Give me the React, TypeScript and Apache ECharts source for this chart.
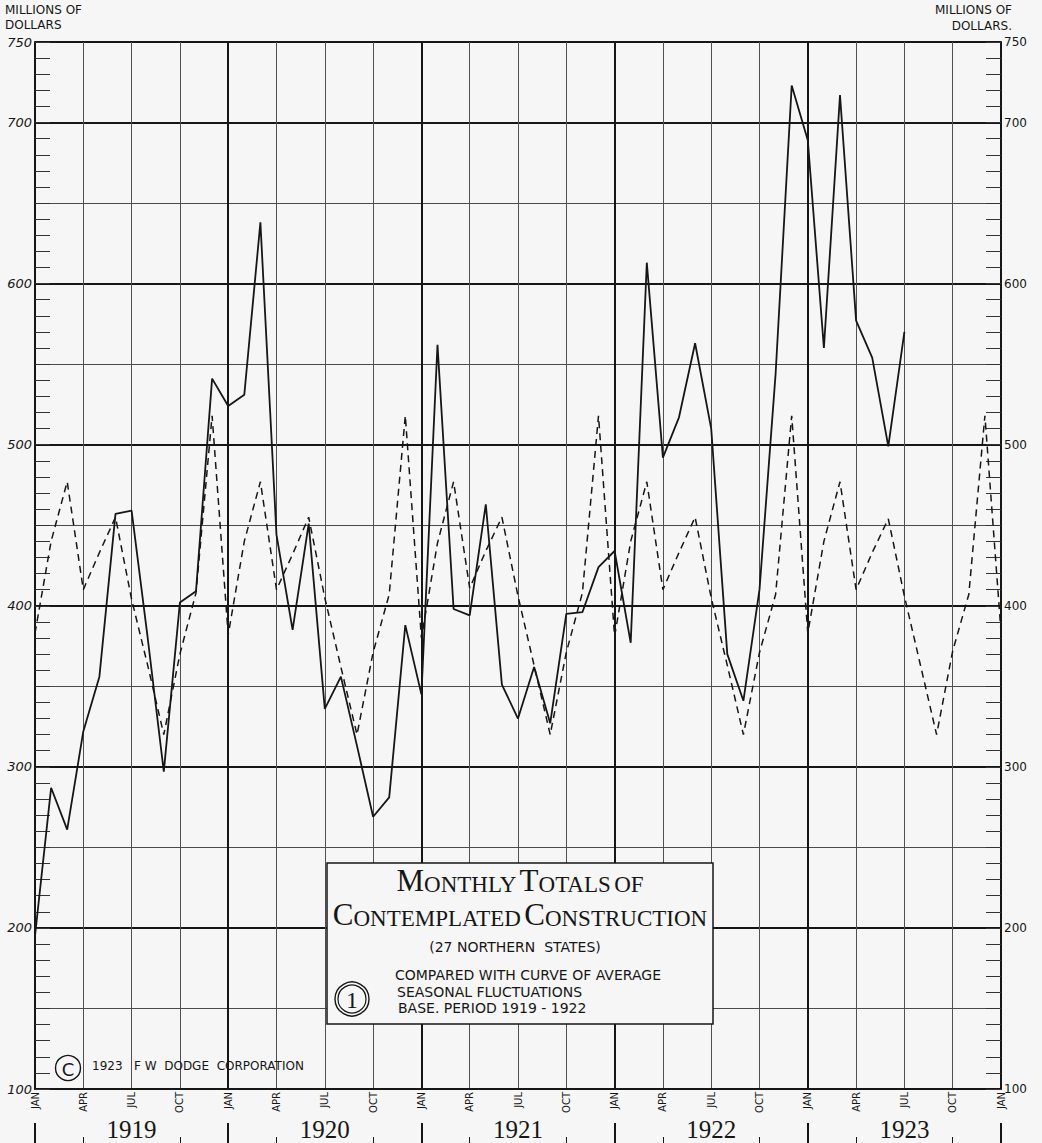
import React, { useEffect, useRef } from "react";
import * as echarts from "echarts";

const monthNames = ["JAN", "FEB", "MAR", "APR", "MAY", "JUN", "JUL", "AUG", "SEP", "OCT", "NOV", "DEC"];
const years = ["1919", "1920", "1921", "1922", "1923"];
const finalMonth = "JAN 1924";

// Monthly totals of contemplated construction (millions of dollars), Jan 1919 – Jul 1923
const actual1919 = [195, 287, 261, 322, 356, 457, 459, 380, 297, 402, 409, 541];
const actual1920 = [524, 531, 638, 444, 385, 451, 336, 356, 313, 269, 281, 388];
const actual1921 = [345, 562, 398, 394, 463, 351, 330, 362, 327, 395, 396, 424];
const actual1922 = [434, 377, 613, 492, 517, 563, 510, 370, 341, 410, 544, 723];
const actual1923 = [689, 560, 717, 577, 554, 499, 570];

// Curve of average seasonal fluctuations, Jan 1919 – Jan 1924
const seasonal1919 = [383, 440, 477, 410, 433, 455, 404, 363, 320, 370, 408, 518];
const seasonal1920 = [382, 440, 477, 410, 432, 455, 405, 362, 320, 371, 407, 518];
const seasonal1921 = [380, 439, 477, 411, 434, 455, 406, 363, 320, 371, 408, 518];
const seasonal1922 = [381, 440, 477, 410, 433, 455, 405, 363, 320, 371, 407, 518];
const seasonal1923 = [383, 440, 477, 410, 433, 454, 406, 363, 320, 372, 407, 518];
const seasonal1924 = [384];

const yTickLabels = [100, 200, 300, 400, 500, 600, 700, 750];

const BG = "#f6f6f6";
const INK = "#161616";

export default function App() {
  const ref = useRef<HTMLDivElement>(null);

  useEffect(() => {
    if (!ref.current) return;
    const chart = echarts.init(ref.current, undefined, { renderer: "svg" });

    const categories: string[] = [];
    years.forEach((y) => monthNames.forEach((m) => categories.push(`${m} ${y}`)));
    categories.push(finalMonth);

    const actual = [...actual1919, ...actual1920, ...actual1921, ...actual1922, ...actual1923];
    const seasonal = [
      ...seasonal1919,
      ...seasonal1920,
      ...seasonal1921,
      ...seasonal1922,
      ...seasonal1923,
      ...seasonal1924,
    ];

    const baseX = {
      type: "category",
      data: categories,
      boundaryGap: false,
      gridIndex: 0,
      position: "bottom",
    };

    const yLabelFmt = (v: number) => (yTickLabels.includes(v) ? String(v) : "");

    const sans = "DejaVu Sans";
    const serif = "Liberation Serif";

    const richCaps = {
      b: { fontSize: 31, fontFamily: serif, fill: INK, verticalAlign: "bottom", lineHeight: 24 },
      s: { fontSize: 23, fontFamily: serif, fill: INK, verticalAlign: "bottom", lineHeight: 20 },
    };

    const boxText = (text: string, x: number, y: number, size: number, align = "left") => ({
      type: "text",
      x,
      y,
      z: 101,
      style: { text, align, verticalAlign: "middle", fontSize: size, fontFamily: sans, fill: INK },
    });

    const option: any = {
      animation: false,
      backgroundColor: BG,
      grid: { left: 35, right: 41, top: 42, bottom: 54, containLabel: false },
      xAxis: [
        {
          ...baseX,
          axisLine: { show: true, lineStyle: { color: INK, width: 2 } },
          axisTick: { show: false },
          axisLabel: {
            show: true,
            interval: (i: number) => i % 3 === 0,
            formatter: (v: string) => v.split(" ")[0],
            rotate: 90,
            fontSize: 10,
            fontFamily: sans,
            color: INK,
            margin: 3,
          },
          splitLine: {
            show: true,
            interval: (i: number) => i % 3 === 0 && i % 12 !== 0,
            lineStyle: { color: "#505050", width: 1 },
          },
        },
        {
          ...baseX,
          axisLine: { show: false },
          axisTick: { show: false },
          axisLabel: { show: false },
          splitLine: {
            show: true,
            interval: (i: number) => i % 12 === 0,
            lineStyle: { color: INK, width: 2 },
          },
        },
        {
          ...baseX,
          offset: 34,
          axisLine: { show: false },
          axisTick: {
            show: true,
            interval: (i: number) => i % 12 === 0,
            length: 20,
            lineStyle: { color: INK, width: 2 },
          },
          axisLabel: { show: false },
          splitLine: { show: false },
        },
        {
          ...baseX,
          offset: 48,
          axisLine: { show: false },
          axisTick: {
            show: true,
            interval: (i: number) => i % 12 === 3 || i % 12 === 9,
            length: 6,
            lineStyle: { color: INK, width: 1 },
          },
          axisLabel: { show: false },
          splitLine: { show: false },
        },
        {
          ...baseX,
          offset: 28,
          axisLine: { show: false },
          axisTick: { show: false },
          axisLabel: {
            show: true,
            interval: (i: number) => i % 12 === 6,
            formatter: (v: string) => v.split(" ")[1],
            fontSize: 25,
            fontFamily: serif,
            color: INK,
            margin: 0,
          },
          splitLine: { show: false },
        },
      ],
      yAxis: [
        {
          type: "value",
          min: 100,
          max: 750,
          interval: 50,
          position: "left",
          axisLine: { show: true, lineStyle: { color: INK, width: 2 } },
          axisTick: { show: true, inside: true, length: 15, lineStyle: { color: "#333" } },
          minorTick: { show: true, splitNumber: 5, length: 15, lineStyle: { color: "#333", width: 1 } },
          axisLabel: {
            formatter: yLabelFmt,
            fontSize: 13,
            fontStyle: "italic",
            fontFamily: sans,
            color: INK,
            margin: 3,
          },
          splitLine: { show: true, lineStyle: { color: "#4a4a4a", width: 1 } },
        },
        {
          type: "value",
          min: 100,
          max: 750,
          interval: 50,
          position: "right",
          axisLine: { show: true, lineStyle: { color: INK, width: 2 } },
          axisTick: { show: true, inside: true, length: 15, lineStyle: { color: "#333" } },
          minorTick: { show: true, splitNumber: 5, length: 15, lineStyle: { color: "#333", width: 1 } },
          axisLabel: {
            formatter: yLabelFmt,
            fontSize: 12,
            fontFamily: sans,
            color: INK,
            margin: 3,
          },
          splitLine: { show: false },
        },
        {
          type: "value",
          min: 100,
          max: 750,
          interval: 100,
          position: "left",
          axisLine: { show: false },
          axisTick: { show: false },
          axisLabel: { show: false },
          splitLine: { show: true, lineStyle: { color: INK, width: 2 } },
        },
      ],
      series: [
        {
          name: "Seasonal average",
          type: "line",
          xAxisIndex: 0,
          yAxisIndex: 0,
          data: seasonal,
          showSymbol: false,
          symbol: "none",
          lineStyle: { color: INK, width: 1.5, type: [7, 5] },
          z: 5,
        },
        {
          name: "Contemplated construction",
          type: "line",
          xAxisIndex: 0,
          yAxisIndex: 0,
          data: actual,
          showSymbol: false,
          symbol: "none",
          lineStyle: { color: INK, width: 1.8 },
          z: 6,
        },
      ],
      graphic: [
        {
          type: "text",
          x: 5,
          y: 2,
          style: { text: "MILLIONS OF\nDOLLARS", fontSize: 12, fontFamily: sans, fill: INK, lineHeight: 15 },
        },
        {
          type: "text",
          x: 1012,
          y: 2,
          style: {
            text: "MILLIONS OF\nDOLLARS.",
            align: "right",
            fontSize: 12,
            fontFamily: sans,
            fill: INK,
            lineHeight: 16,
          },
        },
        {
          type: "group",
          z: 100,
          children: [
            {
              type: "rect",
              shape: { x: 327, y: 863, width: 386, height: 161 },
              style: { fill: BG, stroke: INK, lineWidth: 1.5 },
              z: 100,
            },
            {
              type: "text",
              x: 520,
              y: 884,
              z: 101,
              style: {
                text: "{b|M}{s|ONTHLY} {b|T}{s|OTALS} {s|OF}",
                align: "center",
                verticalAlign: "middle",
                fill: INK,
                rich: richCaps,
              },
            },
            {
              type: "text",
              x: 520,
              y: 918,
              z: 101,
              style: {
                text: "{b|C}{s|ONTEMPLATED} {b|C}{s|ONSTRUCTION}",
                align: "center",
                verticalAlign: "middle",
                fill: INK,
                rich: richCaps,
              },
            },
            boxText("(27 NORTHERN  STATES)", 515, 947, 14, "center"),
            boxText("COMPARED WITH CURVE OF AVERAGE", 395, 975, 14),
            boxText("SEASONAL FLUCTUATIONS", 397, 992, 14),
            boxText("BASE. PERIOD 1919 - 1922", 398, 1008, 14),
            {
              type: "circle",
              shape: { cx: 352, cy: 999, r: 17 },
              style: { fill: "none", stroke: INK, lineWidth: 1.4 },
              z: 101,
            },
            {
              type: "circle",
              shape: { cx: 352, cy: 999, r: 14 },
              style: { fill: "none", stroke: INK, lineWidth: 1.2 },
              z: 101,
            },
            {
              type: "text",
              x: 352,
              y: 1000,
              z: 102,
              style: {
                text: "1",
                align: "center",
                verticalAlign: "middle",
                fontSize: 24,
                fontFamily: serif,
                fill: INK,
              },
            },
          ],
        },
        {
          type: "circle",
          shape: { cx: 68, cy: 1068, r: 12.5 },
          style: { fill: "none", stroke: INK, lineWidth: 1.4 },
          z: 50,
        },
        {
          type: "text",
          x: 68,
          y: 1069,
          z: 50,
          style: {
            text: "C",
            align: "center",
            verticalAlign: "middle",
            fontSize: 18,
            fontFamily: sans,
            fill: INK,
          },
        },
        {
          type: "text",
          x: 92,
          y: 1066,
          z: 50,
          style: {
            text: "1923   F W  DODGE  CORPORATION",
            verticalAlign: "middle",
            fontSize: 12,
            fontFamily: sans,
            fill: INK,
          },
        },
      ],
    };

    chart.setOption(option);
    return () => chart.dispose();
  }, []);

  return (
    <div
      ref={ref}
      style={{ position: "fixed", left: 0, top: 0, width: 1042, height: 1143, background: BG }}
    />
  );
}
